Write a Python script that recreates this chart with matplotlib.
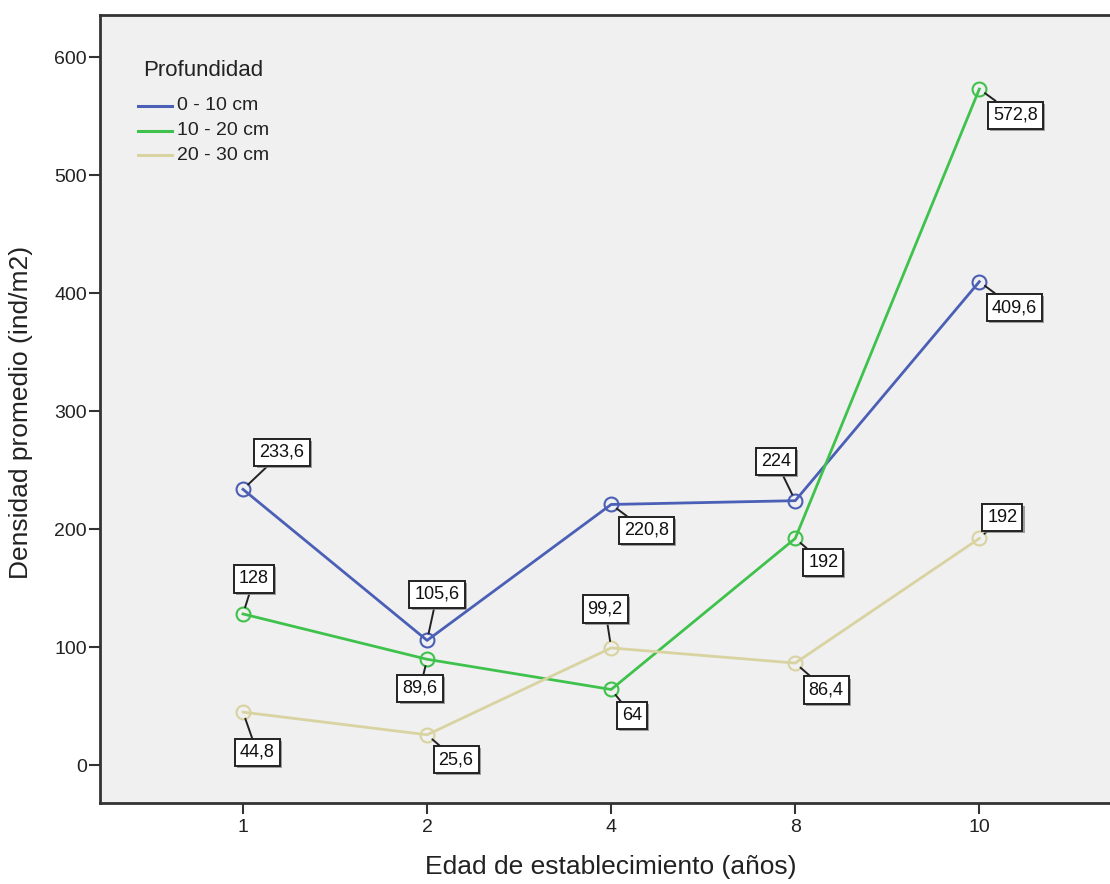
import matplotlib
matplotlib.use("Agg")
import matplotlib.pyplot as plt
import matplotlib.patheffects as pe
from matplotlib.lines import Line2D
import numpy as np

plt.rcParams['font.family'] = ['Liberation Sans', 'DejaVu Sans']

categories = ["1", "2", "4", "8", "10"]
series_names = ["0 - 10 cm", "10 - 20 cm", "20 - 30 cm"]
vals_0_10 = [233.6, 105.6, 220.8, 224, 409.6]
vals_10_20 = [128, 89.6, 64, 192, 572.8]
vals_20_30 = [44.8, 25.6, 99.2, 86.4, 192]
colors = ["#4a5fb5", "#3fc24c", "#d8d3a0"]

# label offsets (pixels) for each point label box center
offsets = [
    [(39, 37), (10, 46), (35, -26), (-19, 39), (35, -26)],
    [(11, 35), (-7, -29), (21, -26), (28, -24), (36, -26)],
    [(14, -40), (29, -25), (-6, 39), (31, -27), (23, 21)],
]

def fmt(v):
    s = ("%.1f" % v).rstrip("0").rstrip(".")
    return s.replace(".", ",")

W, H = 1110, 884
fig = plt.figure(figsize=(W/100, H/100), dpi=100)
ax = fig.add_axes([100/W, 81/H, 1010/W, 788/H])
ax.set_facecolor("#f0f0f0")

x = np.arange(len(categories))
all_vals = [vals_0_10, vals_10_20, vals_20_30]
for vals, c, name, offs in zip(all_vals, colors, series_names, offsets):
    ax.plot(x, vals, color=c, lw=2, marker='o', ms=10, mfc='none', mec=c, mew=1.5, label=name, zorder=3)
    for xi, v, off in zip(x, vals, offs):
        t = ax.annotate(fmt(v), xy=(xi, v), xytext=off, textcoords='offset pixels',
                        ha='center', va='center', fontsize=13, color='#111111',
                        bbox=dict(boxstyle='square,pad=0.28', fc='white', ec='#222222', lw=1.4),
                        arrowprops=dict(arrowstyle='-', color='#222222', lw=1.4, shrinkA=0, shrinkB=5),
                        zorder=4)
        t.get_bbox_patch().set_path_effects([
            pe.SimplePatchShadow(offset=(1.5, -1.5), shadow_rgbFace='#888888', alpha=0.8),
            pe.Normal()])

ax.set_xlim(-0.777, 4.71)
ax.set_ylim(-32.2, 635.6)
ax.set_xticks(x)
ax.set_xticklabels(categories)
ax.set_yticks([0, 100, 200, 300, 400, 500, 600])
ax.tick_params(axis='x', direction='out', length=8, width=1.5, color='#333333', labelsize=14,
               labelcolor='#222222', pad=3.5)
ax.tick_params(axis='y', direction='out', length=8, width=1.5, color='#333333', labelsize=14,
               labelcolor='#222222', pad=1.5)
for s in ['left', 'bottom', 'top']:
    ax.spines[s].set_color('#333333')
    ax.spines[s].set_linewidth(2)
ax.spines['right'].set_visible(False)

ax.set_xlabel("Edad de establecimiento (años)", fontsize=19, color='#222222')
ax.set_ylabel("Densidad promedio (ind/m2)", fontsize=19, color='#222222')
ax.xaxis.set_label_coords(0.506, -0.066)
ax.yaxis.set_label_coords(-0.0663, 0.496)

# legend drawn manually in pixel positions (from top-left)
def fx(px):
    return px / W

def fy(py):
    return 1 - py / H

fig.text(fx(143), fy(70), "Profundidad", fontsize=16, color='#222222', ha='left', va='center')
for i, (name, c) in enumerate(zip(series_names, colors)):
    yy = 106 + i * 24.5
    fig.lines.append(Line2D([fx(138), fx(172)], [fy(yy), fy(yy)], color=c, lw=2.2,
                            transform=fig.transFigure))
    fig.text(fx(177), fy(yy), name, fontsize=14, color='#222222', ha='left', va='center')

fig.savefig("out.png", dpi=100)
